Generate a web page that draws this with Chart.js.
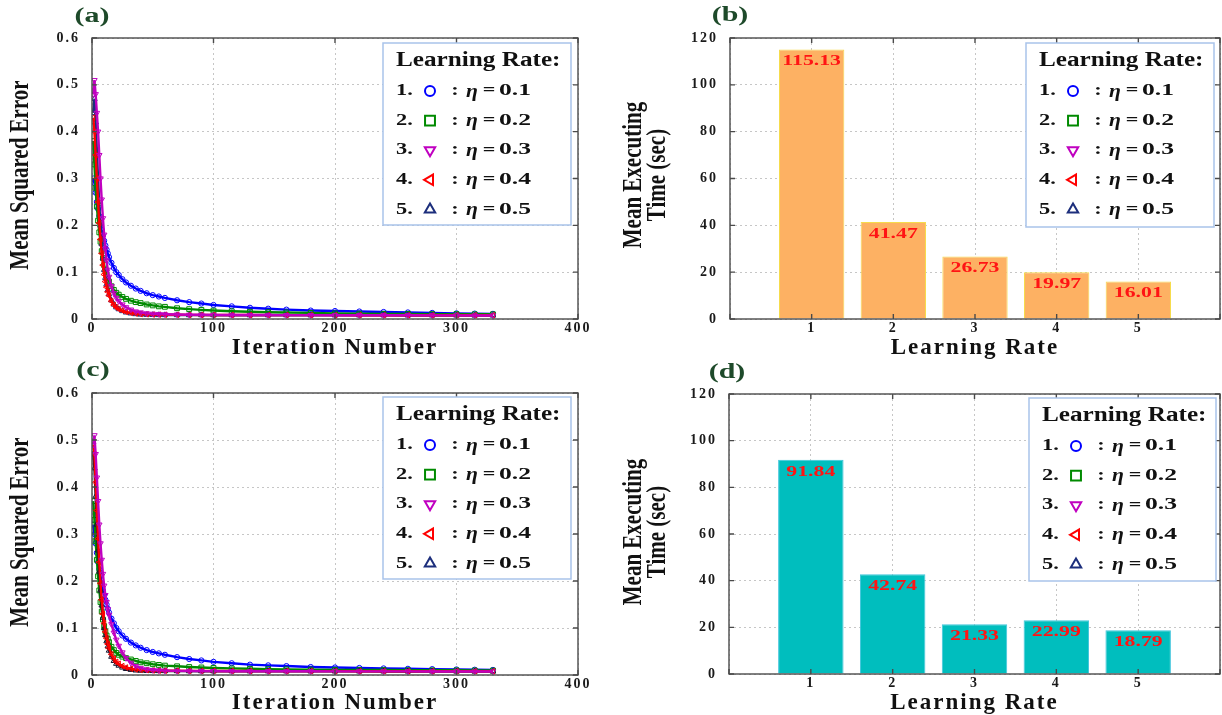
<!DOCTYPE html>
<html><head><meta charset="utf-8">
<script src="https://cdn.jsdelivr.net/npm/chart.js@4.4.1/dist/chart.umd.min.js"></script>
<style>
html,body{margin:0;padding:0;background:#fff;width:1222px;height:715px;overflow:hidden;}
canvas{position:absolute;}
</style></head><body>
<canvas id="ca" width="611" height="360" style="left:0;top:0"></canvas>
<canvas id="cb" width="611" height="360" style="left:611px;top:0"></canvas>
<canvas id="cc" width="611" height="355" style="left:0;top:360px"></canvas>
<canvas id="cd" width="611" height="355" style="left:611px;top:360px"></canvas>
<script>
// ---------- data ----------
const ITER = [1,2,3,4,5,6,7,8,9,10,11,12,13,14,16,18,20,22,25,28,32,36,40,45,50,55,60,70,80,90,100,115,130,145,160,180,200,220,240,260,280,300,315,330];

// panel (a)
const A_ETA1 = [0.30,0.29,0.27,0.25,0.235,0.22,0.205,0.19,0.178,0.167,0.157,0.148,0.14,0.132,0.12,0.109,0.10,0.094,0.085,0.078,0.071,0.065,0.06,0.055,0.051,0.048,0.045,0.04,0.036,0.033,0.03,0.027,0.024,0.022,0.02,0.018,0.017,0.016,0.015,0.014,0.013,0.012,0.0115,0.011];
const A_ETA2 = [0.38,0.33,0.28,0.24,0.21,0.185,0.165,0.145,0.13,0.115,0.105,0.095,0.087,0.08,0.07,0.062,0.056,0.052,0.047,0.043,0.039,0.036,0.034,0.031,0.029,0.027,0.026,0.023,0.021,0.0195,0.018,0.0165,0.0155,0.0145,0.014,0.013,0.012,0.0115,0.011,0.011,0.0105,0.0105,0.01,0.01];
const A_ETA3 = [0.48,0.51,0.48,0.44,0.40,0.35,0.30,0.255,0.215,0.18,0.15,0.125,0.105,0.09,0.07,0.055,0.045,0.038,0.031,0.025,0.02,0.016,0.014,0.012,0.011,0.0105,0.01,0.0095,0.009,0.009,0.0088,0.0086,0.0085,0.0084,0.0083,0.0082,0.0081,0.008,0.008,0.0079,0.0078,0.0077,0.0076,0.0075];
const A_ETA4 = [0.43,0.40,0.35,0.30,0.25,0.205,0.17,0.14,0.115,0.095,0.08,0.068,0.058,0.05,0.038,0.03,0.025,0.021,0.018,0.015,0.013,0.0115,0.0105,0.01,0.0095,0.0093,0.0091,0.009,0.0088,0.0087,0.0086,0.0085,0.0084,0.0083,0.0083,0.0082,0.0082,0.0081,0.0081,0.008,0.008,0.008,0.008,0.008];
const A_ETA5 = [0.44,0.47,0.42,0.36,0.30,0.245,0.20,0.16,0.13,0.105,0.088,0.074,0.062,0.053,0.04,0.031,0.025,0.021,0.017,0.014,0.012,0.0105,0.0095,0.009,0.0088,0.0086,0.0085,0.0084,0.0083,0.0082,0.0081,0.008,0.008,0.0079,0.0079,0.0078,0.0078,0.0077,0.0077,0.0076,0.0076,0.0075,0.0075,0.0075];

// panel (c)
const C_ETA1 = [0.32,0.30,0.28,0.26,0.24,0.225,0.21,0.195,0.18,0.17,0.16,0.15,0.141,0.133,0.12,0.11,0.10,0.093,0.084,0.077,0.069,0.063,0.058,0.053,0.049,0.046,0.043,0.038,0.034,0.031,0.028,0.025,0.022,0.0205,0.019,0.017,0.016,0.015,0.014,0.0132,0.0125,0.0118,0.0112,0.0108];
const C_ETA2 = [0.37,0.33,0.285,0.245,0.21,0.18,0.155,0.135,0.118,0.104,0.093,0.084,0.077,0.07,0.06,0.053,0.047,0.043,0.039,0.036,0.033,0.03,0.027,0.025,0.023,0.0215,0.02,0.0185,0.017,0.016,0.015,0.014,0.0132,0.0126,0.012,0.0115,0.011,0.0107,0.0105,0.0102,0.01,0.01,0.0097,0.0095];
const C_ETA3 = [0.49,0.51,0.47,0.42,0.37,0.32,0.28,0.245,0.215,0.19,0.17,0.155,0.14,0.128,0.108,0.09,0.075,0.062,0.048,0.036,0.026,0.019,0.015,0.012,0.0105,0.0098,0.0093,0.0088,0.0085,0.0083,0.0082,0.0081,0.008,0.008,0.0079,0.0079,0.0078,0.0078,0.0077,0.0077,0.0076,0.0076,0.0075,0.0075];
const C_ETA4 = [0.49,0.47,0.41,0.35,0.29,0.24,0.195,0.16,0.13,0.11,0.092,0.078,0.066,0.057,0.044,0.035,0.028,0.024,0.019,0.016,0.0135,0.012,0.011,0.0102,0.0097,0.0094,0.0092,0.009,0.0088,0.0087,0.0086,0.0085,0.0084,0.0083,0.0083,0.0082,0.0082,0.0081,0.0081,0.008,0.008,0.008,0.008,0.008];
const C_ETA5 = [0.47,0.44,0.38,0.32,0.265,0.22,0.18,0.148,0.122,0.10,0.085,0.072,0.061,0.052,0.039,0.03,0.024,0.02,0.016,0.013,0.011,0.0098,0.0092,0.0088,0.0086,0.0085,0.0084,0.0083,0.0082,0.0081,0.008,0.008,0.0079,0.0079,0.0078,0.0078,0.0077,0.0077,0.0076,0.0076,0.0076,0.0075,0.0075,0.0075];

// bar panels (b) and (d)
const LR_TICKS = ['1','2','3','4','5'];
const TIME_B = [115.13, 41.47, 26.73, 19.97, 16.01];
const TIME_D = [91.84, 42.74, 21.33, 22.99, 18.79];

// texts
const PANEL_LABELS = ['(a)','(b)','(c)','(d)'];
const X_TITLE_MSE = 'Iteration Number';
const X_TITLE_LR = 'Learning Rate';
const Y_TITLE_MSE = ['Mean Squared Error'];
const Y_TITLE_TIME = ['Mean Executing','Time (sec)'];
const LEGEND_TITLE = 'Learning Rate:';
const LEGEND_NUM = ['1.','2.','3.','4.','5.'];
const LEGEND_ETA = ['0.1','0.2','0.3','0.4','0.5'];

// ---------- styling ----------
const FF = '"Liberation Serif","Times New Roman",serif';
const SPACING = '2px';
const MARKERS = [
  {style:'circle', rot:0,   color:'#0000ff', r:2.6, lr:5},
  {style:'rect',   rot:0,   color:'#008a00', r:3.4, lr:7},
  {style:'triangle', rot:180, color:'#c000c0', r:3.2, lr:6},
  {style:'triangle', rot:270, color:'#ff0000', r:3.2, lr:6},
  {style:'triangle', rot:0,   color:'#1c2e7c', r:3.2, lr:6}
];

function stext(ctx, text, x, y, font, color, sx, align, rot) {
  ctx.save();
  ctx.letterSpacing = '0px';
  ctx.font = font; ctx.fillStyle = color;
  ctx.textAlign = align || 'left'; ctx.textBaseline = 'middle';
  ctx.translate(x, y); ctx.scale(sx, 1);
  if (rot) ctx.rotate(rot);
  ctx.fillText(text, 0, 0);
  ctx.restore();
}

function marker(ctx, m, x, y, r, lw) {
  ctx.save();
  ctx.strokeStyle = m.color; ctx.lineWidth = lw; ctx.fillStyle = '#fff';
  ctx.beginPath();
  if (m.style === 'circle') {
    ctx.arc(x, y, r, 0, Math.PI*2);
  } else if (m.style === 'rect') {
    const s = r*Math.SQRT1_2;
    ctx.rect(x-s, y-s, 2*s, 2*s);
  } else {
    const a0 = (m.rot - 90) * Math.PI/180;
    for (let k = 0; k < 3; k++) {
      const a = a0 + k*2*Math.PI/3;
      const px = x + r*Math.cos(a), py = y + r*Math.sin(a);
      if (k === 0) ctx.moveTo(px, py); else ctx.lineTo(px, py);
    }
    ctx.closePath();
  }
  ctx.fill(); ctx.stroke();
  ctx.restore();
}

const decor = {
  id: 'decor',
  beforeUpdate(c){ c.ctx.letterSpacing = SPACING; },
  beforeLayout(c){ c.ctx.letterSpacing = SPACING; },
  beforeDraw(c){ c.ctx.letterSpacing = SPACING; },
  afterDatasetsDraw(c, args, o) {
    const ctx = c.ctx;
    const {left, top, right, bottom} = c.chartArea;
    ctx.save();
    ctx.strokeStyle = '#4a4a4a'; ctx.lineWidth = 1.4;
    ctx.strokeRect(left, top, right-left, bottom-top);
    const xs = c.scales.x, ys = c.scales.y;
    ctx.beginPath();
    xs.ticks.forEach((t, i) => {
      const px = xs.getPixelForTick(i);
      ctx.moveTo(px, bottom); ctx.lineTo(px, bottom-5);
      ctx.moveTo(px, top); ctx.lineTo(px, top+5);
    });
    ys.ticks.forEach((t, i) => {
      const py = ys.getPixelForTick(i);
      ctx.moveTo(left, py); ctx.lineTo(left+5, py);
      ctx.moveTo(right, py); ctx.lineTo(right-5, py);
    });
    ctx.stroke();
    ctx.restore();
    if (o.values) {
      const meta = c.getDatasetMeta(0);
      const d = c.data.datasets[0].data;
      meta.data.forEach((el, i) => {
        stext(ctx, d[i].y.toFixed(2), el.x, el.y + 12, 'bold 15px ' + FF, '#ff1414', 1.45, 'center');
      });
    }
  },
  afterDraw(c, args, o) {
    if (!o.legendBox) return;
    const ctx = c.ctx;
    const [bx, by, bw, bh] = o.legendBox;
    ctx.save();
    ctx.fillStyle = '#fff'; ctx.fillRect(bx, by, bw, bh);
    ctx.strokeStyle = '#a9c3ea'; ctx.lineWidth = 1.5; ctx.strokeRect(bx, by, bw, bh);
    ctx.restore();
    stext(ctx, LEGEND_TITLE, bx+13, by+18, 'bold 20px ' + FF, '#111', 1.26, 'left');
    LEGEND_NUM.forEach((n, i) => {
      const y = by + 48 + i*29.6;
      stext(ctx, n, bx+13, y, 'bold 16px ' + FF, '#111', 1.4, 'left');
      marker(ctx, MARKERS[i], bx+47, y, MARKERS[i].lr, 2);
      stext(ctx, ':', bx+72, y, 'bold 16px ' + FF, '#111', 1.4, 'center');
      stext(ctx, 'η', bx+83, y+1, 'italic bold 18px ' + FF, '#111', 1.2, 'left');
      stext(ctx, '=', bx+106, y, 'bold 17px ' + FF, '#111', 1.3, 'center');
      stext(ctx, LEGEND_ETA[i], bx+116, y, 'bold 16px ' + FF, '#111', 1.6, 'left');
    });
    stext(ctx, o.panel, o.panelX, o.panelY, 'bold 20px ' + FF, '#1e4a2a', 1.5, 'center');
    o.yTitle.forEach((t, i) => {
      stext(ctx, t, o.yTitleX[i], o.yTitleY, 'bold 21px ' + FF, '#111', 1.25, 'center', -Math.PI/2);
    });
  }
};
Chart.register(decor);

const tickFont = {family: FF, size: 14, weight: 'bold'};
const gridOpts = {color: '#c6c6c6', lineWidth: 1, drawTicks: false};
const borderOpts = {display: false, dash: [2, 3]};

function mseChart(id, values, colors5, pad, xh, yw, deco) {
  const orders = [4, 3, 0, 1, 2];
  return new Chart(document.getElementById(id), {
    type: 'line',
    data: {
      datasets: values.map((vals, k) => ({
        label: 'η = ' + LEGEND_ETA[k],
        data: ITER.map((x, i) => ({x: x, y: vals[i]})),
        borderColor: colors5[k], borderWidth: 2.4,
        pointStyle: MARKERS[k].style, pointRotation: MARKERS[k].rot, pointRadius: MARKERS[k].r,
        pointBorderWidth: 1, pointBorderColor: colors5[k], pointBackgroundColor: 'rgba(255,255,255,0)',
        tension: 0, fill: false, order: orders[k]
      }))
    },
    options: {
      responsive: false, animation: false, devicePixelRatio: 1,
      layout: {padding: pad},
      plugins: {legend: {display: false}, tooltip: {enabled: false}, decor: deco},
      scales: {
        x: {type: 'linear', min: 0, max: 400,
            ticks: {stepSize: 100, padding: 1, font: tickFont, color: '#1a1a1a', maxRotation: 0},
            grid: gridOpts, border: borderOpts,
            title: {display: true, text: X_TITLE_MSE, font: {family: FF, size: 23, weight: 'bold', lineHeight: 1}, padding: 0, color: '#111'},
            afterFit(s) { s.height = xh; }},
        y: {type: 'linear', min: 0, max: 0.6,
            ticks: {stepSize: 0.1, padding: 12, font: tickFont, color: '#1a1a1a'},
            grid: gridOpts, border: borderOpts,
            afterFit(s) { s.width = yw; }}
      }
    }
  });
}

function barChart(id, values, fill, edge, pad, xh, yw, deco) {
  return new Chart(document.getElementById(id), {
    type: 'bar',
    data: {
      datasets: [{
        label: 'Mean Executing Time',
        data: values.map((v, i) => ({x: i + 1, y: v})),
        backgroundColor: fill, borderColor: edge, borderWidth: 1,
        barPercentage: 0.8, categoryPercentage: 1
      }]
    },
    options: {
      responsive: false, animation: false, devicePixelRatio: 1,
      layout: {padding: pad},
      plugins: {legend: {display: false}, tooltip: {enabled: false}, decor: deco},
      scales: {
        x: {type: 'linear', min: 0, max: 6, offset: false,
            ticks: {stepSize: 1, padding: 1, font: tickFont, color: '#1a1a1a', maxRotation: 0,
                    callback: v => (v >= 1 && v <= LR_TICKS.length) ? LR_TICKS[v - 1] : ''},
            grid: Object.assign({offset: false}, gridOpts), border: borderOpts,
            title: {display: true, text: X_TITLE_LR, font: {family: FF, size: 23, weight: 'bold', lineHeight: 1}, padding: 0, color: '#111'},
            afterFit(s) { s.height = xh; }},
        y: {type: 'linear', min: 0, max: 120,
            ticks: {stepSize: 20, padding: 12, font: tickFont, color: '#1a1a1a'},
            grid: gridOpts, border: borderOpts,
            afterFit(s) { s.width = yw; }}
      }
    }
  });
}

const COLORS_A = ['#0000ff', '#008a00', '#c000c0', '#ff0000', '#1c2e7c'];
const COLORS_C = ['#0000ff', '#008a00', '#c000c0', '#ff0000', '#14142e'];

mseChart('ca', [A_ETA1, A_ETA2, A_ETA3, A_ETA4, A_ETA5], COLORS_A,
  {top: 38, right: 33, bottom: 0, left: 0}, 41, 92,
  {panel: PANEL_LABELS[0], panelX: 92, panelY: 17, yTitle: Y_TITLE_MSE, yTitleX: [21], yTitleY: 175,
   legendBox: [383, 43, 188, 182]});

barChart('cb', TIME_B, '#fdb163', '#f6dc4c',
  {top: 38, right: 2, bottom: 0, left: 0}, 41, 119,
  {panel: PANEL_LABELS[1], panelX: 119, panelY: 16, yTitle: Y_TITLE_TIME, yTitleX: [23, 47], yTitleY: 175,
   legendBox: [415, 43, 188, 184], values: true});

mseChart('cc', [C_ETA1, C_ETA2, C_ETA3, C_ETA4, C_ETA5], COLORS_C,
  {top: 33, right: 33, bottom: 0, left: 0}, 40, 92,
  {panel: PANEL_LABELS[2], panelX: 93, panelY: 11, yTitle: Y_TITLE_MSE, yTitleX: [21], yTitleY: 172,
   legendBox: [383, 37, 188, 182]});

barChart('cd', TIME_D, '#00bebe', '#3ec4dc',
  {top: 34, right: 2, bottom: 0, left: 0}, 41, 118,
  {panel: PANEL_LABELS[3], panelX: 116, panelY: 13, yTitle: Y_TITLE_TIME, yTitleX: [23, 47], yTitleY: 172,
   legendBox: [418, 38, 187, 183], values: true});
</script>
</body></html>
